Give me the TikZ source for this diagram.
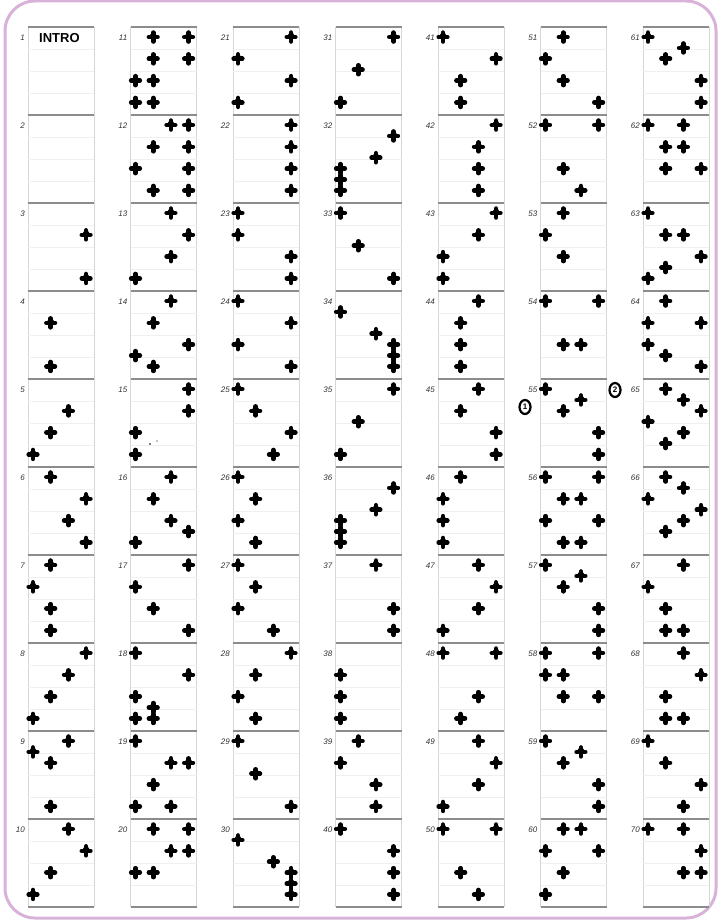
\documentclass[tikz,border=0pt]{standalone}
\usepackage{fontspec}
\newfontfamily\introfont{Liberation Sans}
\usepackage{tikz}
\usetikzlibrary{positioning,shapes.geometric}

% one cell of the chart: column, row, list of lane/beat
\newcommand{\stepcell}[3]{%
  \pgfmathsetmacro{\cellx}{33+(#1-1)*102.5}%
  \pgfmathsetmacro{\celly}{27+(#2-1)*88}%
  \foreach \l/\k in {#3}
    \pic at ({\cellx+(\l-1)*17.7},{\celly+10+\k*10.9}) {arrowmark};
}

\begin{document}
\begin{tikzpicture}[
	x=1pt,y=-1pt,
	celltop/.style={draw=black!45, line width=2.2pt},
	cellside/.style={draw=black!16, line width=0.5pt},
	cellbeat/.style={draw=black!6, line width=0.4pt},
	celllabel/.style={
		anchor=east,
		inner sep=0pt,
		text=black!80,
		font=\introfont\fontsize{8}{9}\selectfont\itshape
	},
	circlemark/.style={
		ellipse,
		draw,
		line width=2.2pt,
		inner sep=0.6pt,
		minimum width=11pt,
		minimum height=14pt,
		font=\introfont\fontsize{8}{8}\selectfont\bfseries
	},
	arrowmark/.pic={
		\draw[line width=4.6pt, line cap=round] (-4.3,0) -- (4.3,0) (0,-4.4) -- (0,4.5);
		\fill (0,-6.6) -- (3.8,-1) -- (0,4) -- (-3.8,-1) -- cycle;
	}
	]
	
	\useasboundingbox (0,0) rectangle (718,923);
	\draw[draw=violet!30, line width=3pt, rounded corners=30pt] (5,1) rectangle (716,918);
	
	% grid of cells and their numbers
	\foreach \c in {1,...,7}{
		\foreach \r in {1,...,10}{
			\pgfmathsetmacro{\bx}{33+(\c-1)*102.5}
			\pgfmathsetmacro{\by}{27+(\r-1)*88}
			\pgfmathtruncatemacro{\num}{(\c-1)*10+\r}
			\draw[cellside] (\bx-5,\by) -- (\bx-5,\by+88) (\bx+61,\by) -- (\bx+61,\by+88);
			\draw[cellbeat] (\bx-5,\by+22) -- (\bx+61,\by+22)
				(\bx-5,\by+44) -- (\bx+61,\by+44)
				(\bx-5,\by+66) -- (\bx+61,\by+66);
			\draw[celltop] (\bx-5,\by) -- (\bx+61,\by);
			\node[celllabel] (n\num) at (\bx-8,\by+11) {\num};
		}
		\pgfmathsetmacro{\bx}{33+(\c-1)*102.5}
		\draw[celltop] (\bx-5,907) -- (\bx+61,907);
	}
	
	\node[font=\introfont\bfseries\fontsize{13}{13}\selectfont, anchor=west, inner sep=0pt] (intro) at (39,38) {INTRO};
	
	% steps
	\stepcell{1}{3}{4/2,4/6}
	\stepcell{1}{4}{2/2,2/6}
	\stepcell{1}{5}{3/2,2/4,1/6}
	\stepcell{1}{6}{2/0,4/2,3/4,4/6}
	\stepcell{1}{7}{2/0,1/2,2/4,2/6}
	\stepcell{1}{8}{4/0,3/2,2/4,1/6}
	\stepcell{1}{9}{3/0,1/1,2/2,2/6}
	\stepcell{1}{10}{3/0,4/2,2/4,1/6}
	
	\stepcell{2}{1}{2/0,4/0,2/2,4/2,1/4,2/4,1/6,2/6}
	\stepcell{2}{2}{3/0,4/0,2/2,4/2,1/4,4/4,2/6,4/6}
	\stepcell{2}{3}{3/0,4/2,3/4,1/6}
	\stepcell{2}{4}{3/0,2/2,4/4,1/5,2/6}
	\stepcell{2}{5}{4/0,4/2,1/4,1/6}
	\stepcell{2}{6}{3/0,2/2,3/4,4/5,1/6}
	\stepcell{2}{7}{4/0,1/2,2/4,4/6}
	\stepcell{2}{8}{1/0,4/2,1/4,2/5,1/6,2/6}
	\stepcell{2}{9}{1/0,3/2,4/2,2/4,1/6,3/6}
	\stepcell{2}{10}{2/0,4/0,3/2,4/2,1/4,2/4}
	\fill (150,444) circle (0.9) (157,441) circle (0.7);
	
	\stepcell{3}{1}{4/0,1/2,4/4,1/6}
	\stepcell{3}{2}{4/0,4/2,4/4,4/6}
	\stepcell{3}{3}{1/0,1/2,4/4,4/6}
	\stepcell{3}{4}{1/0,4/2,1/4,4/6}
	\stepcell{3}{5}{1/0,2/2,4/4,3/6}
	\stepcell{3}{6}{1/0,2/2,1/4,2/6}
	\stepcell{3}{7}{1/0,2/2,1/4,3/6}
	\stepcell{3}{8}{4/0,2/2,1/4,2/6}
	\stepcell{3}{9}{1/0,2/3,4/6}
	\stepcell{3}{10}{1/1,3/3,4/4,4/5,4/6}
	
	\stepcell{4}{1}{4/0,2/3,1/6}
	\stepcell{4}{2}{4/1,3/3,1/4,1/5,1/6}
	\stepcell{4}{3}{1/0,2/3,4/6}
	\stepcell{4}{4}{1/1,3/3,4/4,4/5,4/6}
	\stepcell{4}{5}{4/0,2/3,1/6}
	\stepcell{4}{6}{4/1,3/3,1/4,1/5,1/6}
	\stepcell{4}{7}{3/0,4/4,4/6}
	\stepcell{4}{8}{1/2,1/4,1/6}
	\stepcell{4}{9}{2/0,1/2,3/4,3/6}
	\stepcell{4}{10}{1/0,4/2,4/4,4/6}
	
	\stepcell{5}{1}{1/0,4/2,2/4,2/6}
	\stepcell{5}{2}{4/0,3/2,3/4,3/6}
	\stepcell{5}{3}{4/0,3/2,1/4,1/6}
	\stepcell{5}{4}{3/0,2/2,2/4,2/6}
	\stepcell{5}{5}{3/0,2/2,4/4,4/6}
	\stepcell{5}{6}{2/0,1/2,1/4,1/6}
	\stepcell{5}{7}{3/0,4/2,3/4,1/6}
	\stepcell{5}{8}{1/0,4/0,3/4,2/6}
	\stepcell{5}{9}{3/0,4/2,3/4,1/6}
	\stepcell{5}{10}{1/0,4/0,2/4,3/6}
	
	\stepcell{6}{1}{2/0,1/2,2/4,4/6}
	\stepcell{6}{2}{1/0,4/0,2/4,3/6}
	\stepcell{6}{3}{2/0,1/2,2/4}
	\stepcell{6}{4}{1/0,4/0,2/4,3/4}
	\stepcell{6}{5}{1/0,3/1,2/2,4/4,4/6}
	\stepcell{6}{6}{1/0,4/0,2/2,3/2,1/4,4/4,2/6,3/6}
	\stepcell{6}{7}{1/0,3/1,2/2,4/4,4/6}
	\stepcell{6}{8}{1/0,4/0,1/2,2/2,2/4,4/4}
	\stepcell{6}{9}{1/0,3/1,2/2,4/4,4/6}
	\stepcell{6}{10}{2/0,3/0,1/2,4/2,2/4,1/6}
	
	\stepcell{7}{1}{1/0,3/1,2/2,4/4,4/6}
	\stepcell{7}{2}{1/0,3/0,2/2,3/2,2/4,4/4}
	\stepcell{7}{3}{1/0,2/2,3/2,4/4,2/5,1/6}
	\stepcell{7}{4}{2/0,1/2,4/2,1/4,2/5,4/6}
	\stepcell{7}{5}{2/0,3/1,4/2,1/3,3/4,2/5}
	\stepcell{7}{6}{2/0,3/1,1/2,4/3,3/4,2/5}
	\stepcell{7}{7}{3/0,1/2,2/4,2/6,3/6}
	\stepcell{7}{8}{3/0,4/2,2/4,2/6,3/6}
	\stepcell{7}{9}{1/0,2/2,4/4,3/6}
	\stepcell{7}{10}{1/0,3/0,4/2,3/4,4/4}
	
	% markers
	\node[circlemark] (m1) at (525,407) {1};
	\node[circlemark] (m2) at (615,390) {2};
\end{tikzpicture}
\end{document}
